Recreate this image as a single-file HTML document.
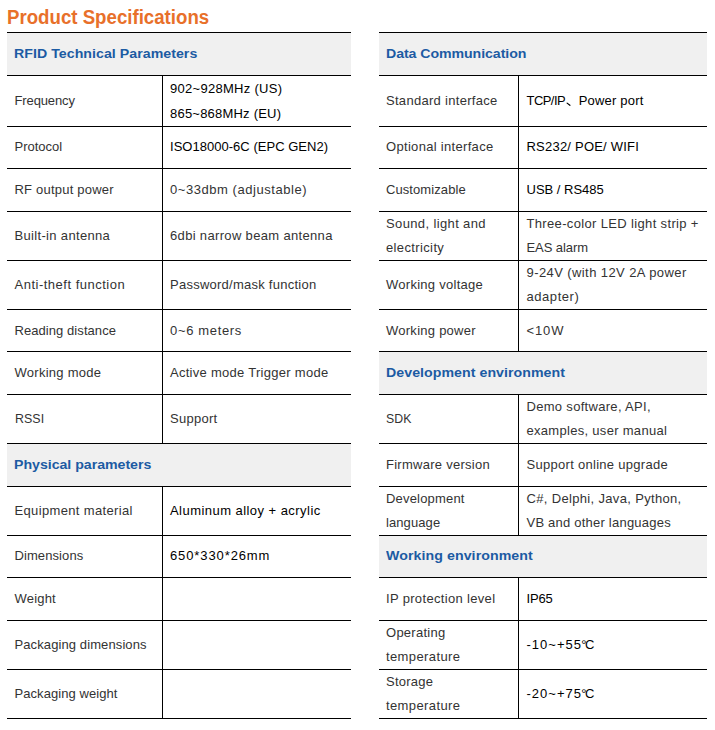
<!DOCTYPE html>
<html><head><meta charset="utf-8"><title>Product Specifications</title>
<style>
html,body{margin:0;padding:0;background:#fff;}
body{width:715px;height:730px;position:relative;overflow:hidden;font-family:"Liberation Sans",sans-serif;}
.title{position:absolute;left:7px;top:6.5px;transform:scaleY(1.05);transform-origin:0 17.5px;font-size:18.67px;line-height:22px;font-weight:bold;color:#e8702a;white-space:nowrap;}
.hl{position:absolute;height:1px;background:#000;}
.vl{position:absolute;width:1px;background:#000;}
.hd{position:absolute;background:#f0f0f0;}
.c{position:absolute;font-size:13px;line-height:24px;white-space:nowrap;}
.c > div > span{display:block;height:24px;width:max-content;}
.c.k{color:#333;}
.c.v.g{color:#333;}
.c.v.b{color:#000;}
.c.h{color:#1c5ba3;font-weight:bold;}
.dun{display:inline-block;vertical-align:-2px;overflow:visible;}
.deg{letter-spacing:-1.3px;margin-left:-0.8px;}
.c.h > div > span{transform:scaleX(1.09);transform-origin:0 50%;}

</style></head><body>
<div class="title">Product Specifications</div>
<div class="hl" style="left:7px;top:32px;width:344px"></div>
<div class="hd" style="left:7px;top:33px;width:344px;height:42px"></div>
<div class="c h" style="left:14px;top:42px;width:337px"><div><span id="t0" style="letter-spacing:0.032px">RFID Technical Parameters</span></div></div>
<div class="hl" style="left:7px;top:75px;width:344px"></div>
<div class="vl" style="left:162px;top:76px;height:51px"></div>
<div class="c k" style="left:14.5px;top:89px;width:147px"><div><span id="t1" style="letter-spacing:-0.125px">Frequency</span></div></div>
<div class="c v b" style="left:170px;top:77px;width:180px"><div><span id="t2" style="letter-spacing:0.286px">902~928MHz (US)</span><span id="t3" style="letter-spacing:0.214px;position:relative;top:1px">865~868MHz (EU)</span></div></div>
<div class="hl" style="left:7px;top:126px;width:344px"></div>
<div class="vl" style="left:162px;top:127px;height:42px"></div>
<div class="c k" style="left:14.5px;top:135px;width:147px"><div><span id="t4" style="letter-spacing:0.000px">Protocol</span></div></div>
<div class="c v b" style="left:170px;top:135px;width:180px"><div><span id="t5" style="letter-spacing:0.027px">ISO18000-6C (EPC GEN2)</span></div></div>
<div class="hl" style="left:7px;top:168px;width:344px"></div>
<div class="vl" style="left:162px;top:169px;height:43px"></div>
<div class="c k" style="left:14.5px;top:178px;width:147px"><div><span id="t6" style="letter-spacing:0.214px">RF output power</span></div></div>
<div class="c v g" style="left:170px;top:178px;width:180px"><div><span id="t7" style="letter-spacing:0.552px">0~33dbm (adjustable)</span></div></div>
<div class="hl" style="left:7px;top:211px;width:344px"></div>
<div class="vl" style="left:162px;top:212px;height:49px"></div>
<div class="c k" style="left:14.5px;top:224px;width:147px"><div><span id="t8" style="letter-spacing:0.333px">Built-in antenna</span></div></div>
<div class="c v g" style="left:170px;top:224px;width:180px"><div><span id="t9" style="letter-spacing:0.336px">6dbi narrow beam antenna</span></div></div>
<div class="hl" style="left:7px;top:260px;width:344px"></div>
<div class="vl" style="left:162px;top:261px;height:49px"></div>
<div class="c k" style="left:14.5px;top:273px;width:147px"><div><span id="t10" style="letter-spacing:0.502px">Anti-theft function</span></div></div>
<div class="c v g" style="left:170px;top:273px;width:180px"><div><span id="t11" style="letter-spacing:0.251px">Password/mask function</span></div></div>
<div class="hl" style="left:7px;top:309px;width:344px"></div>
<div class="vl" style="left:162px;top:310px;height:42px"></div>
<div class="c k" style="left:14.5px;top:319px;width:147px"><div><span id="t12" style="letter-spacing:0.067px">Reading distance</span></div></div>
<div class="c v g" style="left:170px;top:319px;width:180px"><div><span id="t13" style="letter-spacing:0.653px">0~6 meters</span></div></div>
<div class="hl" style="left:7px;top:351px;width:344px"></div>
<div class="vl" style="left:162px;top:352px;height:43px"></div>
<div class="c k" style="left:14.5px;top:361px;width:147px"><div><span id="t14" style="letter-spacing:0.273px">Working mode</span></div></div>
<div class="c v g" style="left:170px;top:361px;width:180px"><div><span id="t15" style="letter-spacing:0.280px">Active mode Trigger mode</span></div></div>
<div class="hl" style="left:7px;top:394px;width:344px"></div>
<div class="vl" style="left:162px;top:395px;height:49px"></div>
<div class="c k" style="left:14.5px;top:407px;width:147px"><div><span id="t16" style="letter-spacing:0.067px;transform:scaleX(0.955);transform-origin:0 50%">RSSI</span></div></div>
<div class="c v g" style="left:170px;top:407px;width:180px"><div><span id="t17" style="letter-spacing:0.273px">Support</span></div></div>
<div class="hl" style="left:7px;top:443px;width:344px"></div>
<div class="hd" style="left:7px;top:444px;width:344px;height:42px"></div>
<div class="c h" style="left:14px;top:453px;width:337px"><div><span id="t18" style="letter-spacing:-0.027px">Physical parameters</span></div></div>
<div class="hl" style="left:7px;top:486px;width:344px"></div>
<div class="vl" style="left:162px;top:487px;height:49px"></div>
<div class="c k" style="left:14.5px;top:499px;width:147px"><div><span id="t19" style="letter-spacing:0.353px">Equipment material</span></div></div>
<div class="c v b" style="left:170px;top:499px;width:180px"><div><span id="t20" style="letter-spacing:0.454px">Aluminum alloy + acrylic</span></div></div>
<div class="hl" style="left:7px;top:535px;width:344px"></div>
<div class="vl" style="left:162px;top:536px;height:42px"></div>
<div class="c k" style="left:14.5px;top:544px;width:147px"><div><span id="t21" style="letter-spacing:0.089px">Dimensions</span></div></div>
<div class="c v b" style="left:170px;top:544px;width:180px"><div><span id="t22" style="letter-spacing:0.891px">650*330*26mm</span></div></div>
<div class="hl" style="left:7px;top:577px;width:344px"></div>
<div class="vl" style="left:162px;top:578px;height:43px"></div>
<div class="c k" style="left:14.5px;top:587px;width:147px"><div><span id="t23" style="letter-spacing:0.192px">Weight</span></div></div>
<div class="hl" style="left:7px;top:620px;width:344px"></div>
<div class="vl" style="left:162px;top:621px;height:49px"></div>
<div class="c k" style="left:14.5px;top:633px;width:147px"><div><span id="t24" style="letter-spacing:0.103px">Packaging dimensions</span></div></div>
<div class="hl" style="left:7px;top:669px;width:344px"></div>
<div class="vl" style="left:162px;top:670px;height:49px"></div>
<div class="c k" style="left:14.5px;top:682px;width:147px"><div><span id="t25" style="letter-spacing:0.067px">Packaging weight</span></div></div>
<div class="hl" style="left:7px;top:718px;width:344px"></div>
<div class="hl" style="left:379px;top:32px;width:328px"></div>
<div class="hd" style="left:379px;top:33px;width:328px;height:42px"></div>
<div class="c h" style="left:386px;top:42px;width:321px"><div><span id="t26" style="letter-spacing:-0.073px">Data Communication</span></div></div>
<div class="hl" style="left:379px;top:75px;width:328px"></div>
<div class="vl" style="left:518px;top:76px;height:51px"></div>
<div class="c k" style="left:386px;top:89px;width:131px"><div><span id="t27" style="letter-spacing:0.296px">Standard interface</span></div></div>
<div class="c v b" style="left:526.5px;top:89px;width:180px"><div><span id="t28" style="letter-spacing:0.188px"><span class="in" style="letter-spacing:-0.55px">TCP/IP</span><svg class="dun" width="13.6" height="12" viewBox="0 0 13.6 12"><path d="M2.1 8.1 L4.9 10.3" stroke="currentColor" stroke-width="1.2" stroke-linecap="round" fill="none"/></svg>Power port</span></div></div>
<div class="hl" style="left:379px;top:126px;width:328px"></div>
<div class="vl" style="left:518px;top:127px;height:42px"></div>
<div class="c k" style="left:386px;top:135px;width:131px"><div><span id="t29" style="letter-spacing:0.311px">Optional interface</span></div></div>
<div class="c v b" style="left:526.5px;top:135px;width:180px"><div><span id="t30" style="letter-spacing:0.219px">RS232/ POE/ WIFI</span></div></div>
<div class="hl" style="left:379px;top:168px;width:328px"></div>
<div class="vl" style="left:518px;top:169px;height:43px"></div>
<div class="c k" style="left:386px;top:178px;width:131px"><div><span id="t31" style="letter-spacing:0.080px">Customizable</span></div></div>
<div class="c v b" style="left:526.5px;top:178px;width:180px"><div><span id="t32" style="letter-spacing:0.000px">USB / RS485</span></div></div>
<div class="hl" style="left:379px;top:211px;width:328px"></div>
<div class="vl" style="left:518px;top:212px;height:49px"></div>
<div class="c k" style="left:386px;top:212px;width:131px"><div><span id="t33" style="letter-spacing:0.373px">Sound, light and</span><span id="t34" style="letter-spacing:0.368px">electricity</span></div></div>
<div class="c v g" style="left:526.5px;top:212px;width:180px"><div><span id="t35" style="letter-spacing:0.347px">Three-color LED light strip +</span><span id="t36" style="letter-spacing:-0.080px">EAS alarm</span></div></div>
<div class="hl" style="left:379px;top:260px;width:328px"></div>
<div class="vl" style="left:518px;top:261px;height:49px"></div>
<div class="c k" style="left:386px;top:273px;width:131px"><div><span id="t37" style="letter-spacing:0.271px">Working voltage</span></div></div>
<div class="c v g" style="left:526.5px;top:261px;width:180px"><div><span id="t38" style="letter-spacing:0.412px">9-24V (with 12V 2A power</span><span id="t39" style="letter-spacing:0.554px">adapter)</span></div></div>
<div class="hl" style="left:379px;top:309px;width:328px"></div>
<div class="vl" style="left:518px;top:310px;height:42px"></div>
<div class="c k" style="left:386px;top:319px;width:131px"><div><span id="t40" style="letter-spacing:0.260px">Working power</span></div></div>
<div class="c v g" style="left:526.5px;top:319px;width:180px"><div><span id="t41" style="letter-spacing:0.880px">&lt;10W</span></div></div>
<div class="hl" style="left:379px;top:351px;width:328px"></div>
<div class="hd" style="left:379px;top:352px;width:328px;height:42px"></div>
<div class="c h" style="left:386px;top:361px;width:321px"><div><span id="t42" style="letter-spacing:0.042px">Development environment</span></div></div>
<div class="hl" style="left:379px;top:394px;width:328px"></div>
<div class="vl" style="left:518px;top:395px;height:49px"></div>
<div class="c k" style="left:386px;top:407px;width:131px"><div><span id="t43" style="letter-spacing:0.100px;transform:scaleX(0.945);transform-origin:0 50%">SDK</span></div></div>
<div class="c v g" style="left:526.5px;top:395px;width:180px"><div><span id="t44" style="letter-spacing:0.307px">Demo software, API,</span><span id="t45" style="letter-spacing:0.298px">examples, user manual</span></div></div>
<div class="hl" style="left:379px;top:443px;width:328px"></div>
<div class="vl" style="left:518px;top:444px;height:43px"></div>
<div class="c k" style="left:386px;top:453px;width:131px"><div><span id="t46" style="letter-spacing:0.269px">Firmware version</span></div></div>
<div class="c v g" style="left:526.5px;top:453px;width:180px"><div><span id="t47" style="letter-spacing:0.286px">Support online upgrade</span></div></div>
<div class="hl" style="left:379px;top:486px;width:328px"></div>
<div class="vl" style="left:518px;top:487px;height:49px"></div>
<div class="c k" style="left:386px;top:487px;width:131px"><div><span id="t48" style="letter-spacing:0.188px">Development</span><span id="t49" style="letter-spacing:0.091px">language</span></div></div>
<div class="c v g" style="left:526.5px;top:487px;width:180px"><div><span id="t50" style="letter-spacing:0.335px">C#, Delphi, Java, Python,</span><span id="t51" style="letter-spacing:0.221px">VB and other languages</span></div></div>
<div class="hl" style="left:379px;top:535px;width:328px"></div>
<div class="hd" style="left:379px;top:536px;width:328px;height:41px"></div>
<div class="c h" style="left:386px;top:544px;width:321px"><div><span id="t52" style="letter-spacing:0.071px">Working environment</span></div></div>
<div class="hl" style="left:379px;top:577px;width:328px"></div>
<div class="vl" style="left:518px;top:578px;height:43px"></div>
<div class="c k" style="left:386px;top:587px;width:131px"><div><span id="t53" style="letter-spacing:0.331px">IP protection level</span></div></div>
<div class="c v b" style="left:526.5px;top:587px;width:180px"><div><span id="t54" style="letter-spacing:-0.187px">IP65</span></div></div>
<div class="hl" style="left:379px;top:620px;width:328px"></div>
<div class="vl" style="left:518px;top:621px;height:49px"></div>
<div class="c k" style="left:386px;top:621px;width:131px"><div><span id="t55" style="letter-spacing:0.265px">Operating</span><span id="t56" style="letter-spacing:0.388px">temperature</span></div></div>
<div class="c v b" style="left:526.5px;top:633px;width:180px"><div><span id="t57" style="letter-spacing:1.000px">-10~+55<span class="deg">°</span>C</span></div></div>
<div class="hl" style="left:379px;top:669px;width:328px"></div>
<div class="vl" style="left:518px;top:670px;height:49px"></div>
<div class="c k" style="left:386px;top:670px;width:131px"><div><span id="t58" style="letter-spacing:0.240px">Storage</span><span id="t59" style="letter-spacing:0.388px">temperature</span></div></div>
<div class="c v b" style="left:526.5px;top:682px;width:180px"><div><span id="t60" style="letter-spacing:1.000px">-20~+75<span class="deg">°</span>C</span></div></div>
<div class="hl" style="left:379px;top:718px;width:328px"></div>
</body></html>
